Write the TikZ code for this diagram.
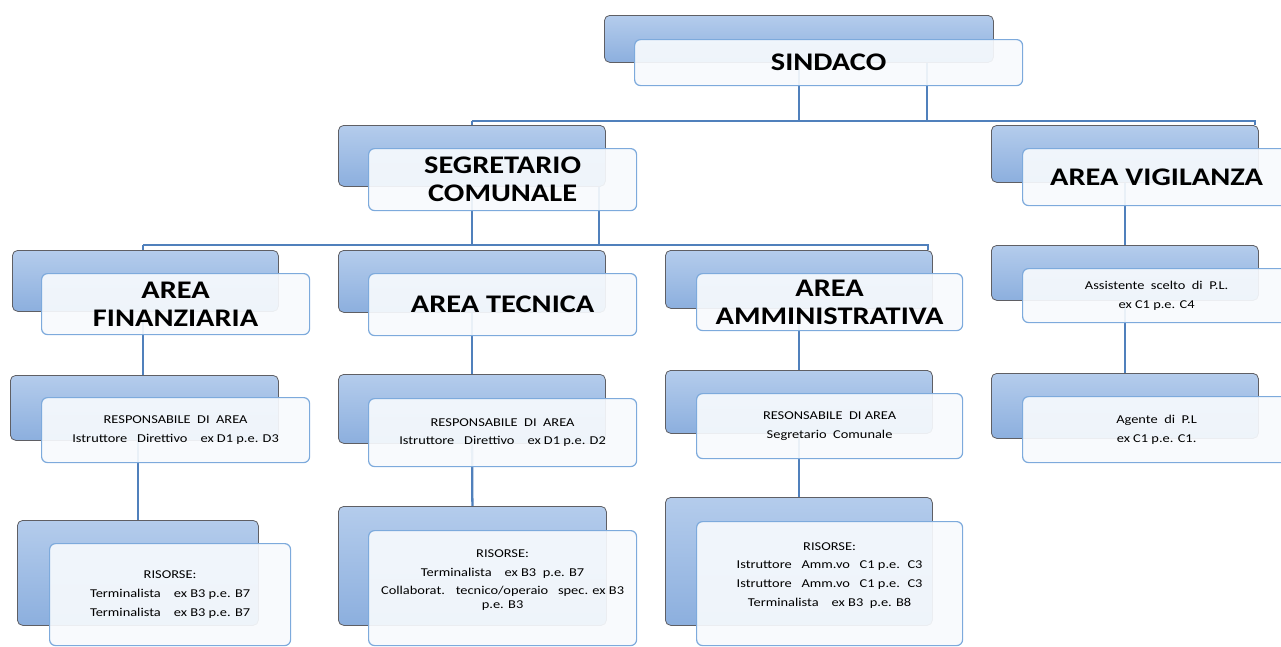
\documentclass[tikz,border=0pt]{standalone}
\usepackage{fontspec}
\setmainfont{Carlito}[FakeStretch=1.2]
\usetikzlibrary{positioning,calc}
\definecolor{backtop}{RGB}{180,204,236}
\definecolor{backbot}{RGB}{140,175,222}
\definecolor{backline}{RGB}{95,95,100}
\definecolor{frontline}{RGB}{125,170,220}
\definecolor{frontfill}{RGB}{247,250,253}
\definecolor{linkblue}{RGB}{80,128,188}
\pgfdeclarelayer{bg}
\pgfsetlayers{bg,main}

\begin{document}
\begin{tikzpicture}[x=0.75pt,y=-0.75pt,
  back/.style={draw=backline,line width=0.6pt,rounded corners=4pt,top color=backtop,bottom color=backbot,anchor=north west,inner sep=0pt},
  front/.style={draw=frontline,line width=0.9pt,rounded corners=4.5pt,fill=frontfill,fill opacity=0.92,text opacity=1,anchor=north west,align=center,inner sep=2pt},
  big/.style={front,font=\fontsize{19}{21}\selectfont\bfseries},
  small/.style={front,font=\fontsize{9}{14}\selectfont},
  link/.style={draw=linkblue,line width=1.7pt}]
  \useasboundingbox (0,0) rectangle (1281,646);
  \clip (0,0) rectangle (1281,646);

  \node[back,minimum width=291.75pt,minimum height=35.25pt] (sind-b) at (604,15) {};
  \node[big,minimum width=291pt,minimum height=34.5pt] (sind) at ([shift={(30,24)}]sind-b.north west) {SINDACO};

  \node[back,minimum width=200.25pt,minimum height=45.75pt] (seg-b) at (338,125) {};
  \node[big,minimum width=201pt,minimum height=46.5pt] (seg) at ([shift={(30,23)}]seg-b.north west) {SEGRETARIO\\COMUNALE};

  \node[back,minimum width=200.25pt,minimum height=42.75pt] (vig-b) at (991,125) {};
  \node[big,minimum width=201pt,minimum height=42.75pt] (vig) at ([shift={(31,23)}]vig-b.north west) {AREA VIGILANZA};

  \node[back,minimum width=199.5pt,minimum height=45.75pt] (fin-b) at (12,250) {};
  \node[big,minimum width=201pt,minimum height=45.75pt] (fin) at ([shift={(29,23)}]fin-b.north west) {AREA\\FINANZIARIA};

  \node[back,minimum width=200.25pt,minimum height=46.5pt] (tec-b) at (338,250) {};
  \node[big,minimum width=201pt,minimum height=46.5pt] (tec) at ([shift={(30,23)}]tec-b.north west) {AREA TECNICA};

  \node[back,minimum width=200.25pt,minimum height=43.5pt] (amm-b) at (665,250) {};
  \node[big,minimum width=199.5pt,minimum height=42.75pt] (amm) at ([shift={(31,23)}]amm-b.north west) {AREA\\AMMINISTRATIVA};

  \node[back,minimum width=201pt,minimum height=48.75pt] (finr-b) at (10,375) {};
  \node[small,minimum width=201pt,minimum height=48.75pt] (finr) at ([shift={(31,22)}]finr-b.north west)
    {RESPONSABILE~ DI~ AREA\\Istruttore~~ Direttivo~~~ ex D1 p.e. D3};

  \node[back,minimum width=200.25pt,minimum height=51.75pt] (tecr-b) at (338,374) {};
  \node[small,minimum width=201pt,minimum height=51pt] (tecr) at ([shift={(30,24)}]tecr-b.north west)
    {RESPONSABILE~ DI~ AREA\\Istruttore~~ Direttivo~~~ ex D1 p.e. D2};

  \node[back,minimum width=200.25pt,minimum height=47.25pt] (ammr-b) at (665,370) {};
  \node[small,minimum width=199.5pt,minimum height=48.75pt] (ammr) at ([shift={(31,23)}]ammr-b.north west)
    {RESONSABILE~ DI AREA\\Segretario~ Comunale};

  \node[back,minimum width=180.75pt,minimum height=78.75pt] (finx-b) at (17,520) {};
  \node[small,minimum width=180.75pt,minimum height=76.5pt] (finx) at ([shift={(32,23)}]finx-b.north west)
    {RISORSE:\\Terminalista~~~ ex B3 p.e. B7\\Terminalista~~~ ex B3 p.e. B7};

  \node[back,minimum width=201pt,minimum height=89.25pt] (tecx-b) at (338,506) {};
  \node[small,minimum width=201pt,minimum height=86.25pt] (tecx) at ([shift={(30,24)}]tecx-b.north west)
    {RISORSE:\\Terminalista~~~ ex B3~ p.e. B7\\Collaborat.~~ tecnico/operaio~~ spec. ex B3\\[-4pt]p.e. B3\\ \mbox{}};

  \node[back,minimum width=200.25pt,minimum height=96pt] (ammx-b) at (665,497) {};
  \node[small,minimum width=199.5pt,minimum height=93pt] (ammx) at ([shift={(31,24)}]ammx-b.north west)
    {RISORSE:\\Istruttore~~ Amm.vo~~ C1 p.e.~ C3\\Istruttore~~ Amm.vo~~ C1 p.e.~ C3\\Terminalista~~~ ex B3~ p.e. B8\\ \mbox{}};

  \node[back,minimum width=200.25pt,minimum height=41.25pt] (viga-b) at (991,245) {};
  \node[small,minimum width=201pt,minimum height=40.5pt] (viga) at ([shift={(31,23)}]viga-b.north west)
    {Assistente~ scelto~ di~ P.L.\\ex C1 p.e. C4};

  \node[back,minimum width=200.25pt,minimum height=48.75pt] (vigb-b) at (991,373) {};
  \node[small,minimum width=201pt,minimum height=49.5pt] (vigb) at ([shift={(31,23)}]vigb-b.north west)
    {Agente~ di~ P.L\\ex C1 p.e. C1.};

  \coordinate (sind-r) at ([xshift=96pt]sind-b.south);
  \coordinate (seg-r) at ([xshift=-5pt]seg-b.south east);
  \coordinate (bus1w) at (472,121);
  \coordinate (bus1e) at (1255,121);
  \coordinate (bus2w) at (143,245);
  \coordinate (bus2e) at (928,245);

  \begin{pgfonlayer}{bg}
    \draw[link] (sind-b.south) -- (sind-b.south |- bus1w);
    \draw[link] (sind-r) -- (sind-r |- bus1w);
    \draw[link] (bus1w) -- (bus1e) -- (bus1e |- vig-b.north);
    \draw[link] (bus1w) -- (bus1w |- bus2w);
    \draw[link] (seg-r) -- (seg-r |- bus2w);
    \draw[link] (bus2w) -- (bus2e) -- (bus2e |- amm-b.north);
    \draw[link] (bus2w) -- (bus2w |- finr-b.north);
    \draw[link] (tec-b.north) -- (tecr-b.north);
    \draw[link] (amm-b.north) -- (ammr-b.north);
    \draw[link] (finr-b.center -| finx-b.north) -- (finx-b.north);
    \draw[link] (tecr-b.center) -- (tecx-b.north);
    \draw[link] (ammr-b.center) -- (ammx-b.north);
    \draw[link] (vig-b.center) -- (viga-b.north);
    \draw[link] (viga-b.center) -- (vigb-b.north);
  \end{pgfonlayer}
\end{tikzpicture}
\end{document}
